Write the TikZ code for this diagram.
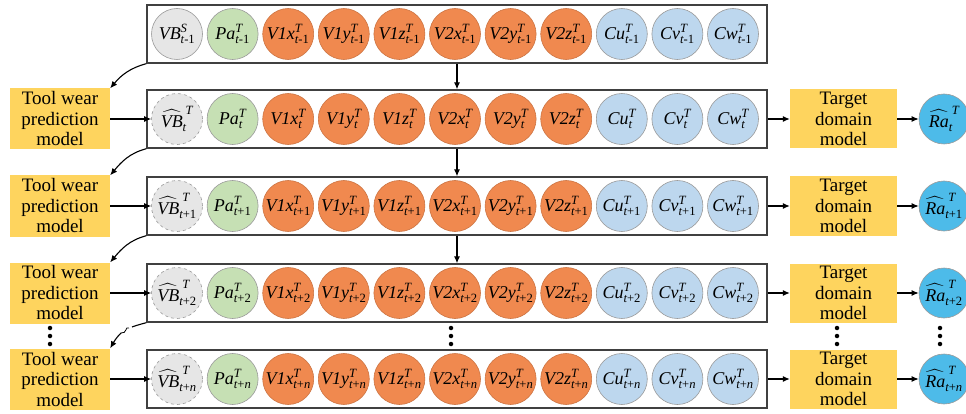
\documentclass[tikz,border=0pt]{standalone}
\usepackage{amsmath}
\usepackage{fontspec}
\setmainfont{Liberation Serif}
\usetikzlibrary{arrows.meta}
\definecolor{greyfill}{HTML}{E6E6E6}
\definecolor{greyline}{HTML}{9A9A9A}
\definecolor{greenfill}{HTML}{C6E0B4}
\definecolor{orangefill}{HTML}{F0894F}
\definecolor{bluefill}{HTML}{BDD7EE}
\definecolor{yellowfill}{HTML}{FED45E}
\definecolor{rafill}{HTML}{4DBBE9}
\definecolor{boxline}{HTML}{404040}
\newcommand\clab[3]{$\textit{#1}^{\textit{#2}}_{#3}$}
\newcommand\hlab[3]{$\widehat{\textit{#1}}^{\hspace{3pt}\textit{#2}}_{#3}$}
\begin{document}
\begin{tikzpicture}[x=1pt,y=-1pt,
  cir/.style={circle,minimum size=51,inner sep=0,draw=greyline,line width=0.6,
    font=\fontsize{18}{20}\selectfont},
  vbc/.style={cir,fill=greyfill},
  pac/.style={cir,fill=greenfill},
  orc/.style={cir,fill=orangefill,draw=orangefill!85!black},
  blc/.style={cir,fill=bluefill},
  rac/.style={cir,fill=rafill,minimum size=50},
  rowbox/.style={draw=boxline,line width=1.4,minimum width=620,minimum height=58,inner sep=0},
  ybox/.style={fill=yellowfill,minimum width=100,minimum height=61,inner sep=0,align=center,
    font=\fontsize{19}{20.5}\selectfont},
  tbox/.style={ybox,minimum width=107,minimum height=59},
  arr/.style={line width=1.1,-{Latex[length=7,width=6]}},
  dot/.style={circle,fill=black,inner sep=0,minimum size=4.5}
]
\useasboundingbox (0,0) rectangle (966,414);

% row 0
\node[rowbox] (box0) at (457,34) {};
\node[vbc] (c0-0) at (177,34) {\clab{VB}{S}{\textit{t}\text{-1}}};
\node[pac] (c0-1) at (232.6,34) {\clab{Pa}{T}{\textit{t}\text{-1}}};
\foreach \i/\n in {2/V1x,3/V1y,4/V1z,5/V2x,6/V2y,7/V2z}
  \node[orc] (c0-\i) at (177+55.6*\i,34) {\clab{\n}{T}{\textit{t}\text{-1}}};
\foreach \i/\n in {8/Cu,9/Cv,10/Cw}
  \node[blc] (c0-\i) at (177+55.6*\i,34) {\clab{\n}{T}{\textit{t}\text{-1}}};

% rows 1..4
\foreach \r/\y/\s in {1/119/{\textit{t}},2/206/{\textit{t}\text{+1}},3/293/{\textit{t}\text{+2}},4/379/{\textit{t}\text{+}\textit{n}}}{
  \node[rowbox] (box\r) at (457,\y) {};
  \node[vbc,dashed] (c\r-0) at (177,\y) {\hlab{VB}{T}{\s}};
  \node[pac] (c\r-1) at (232.6,\y) {\clab{Pa}{T}{\s}};
  \foreach \i/\n in {2/V1x,3/V1y,4/V1z,5/V2x,6/V2y,7/V2z}
    \node[orc] (c\r-\i) at (177+55.6*\i,\y) {\clab{\n}{T}{\s}};
  \foreach \i/\n in {8/Cu,9/Cv,10/Cw}
    \node[blc] (c\r-\i) at (177+55.6*\i,\y) {\clab{\n}{T}{\s}};
  \node[ybox] (tw\r) at (60,\y) {Tool wear\\prediction\\model};
  \node[tbox] (td\r) at (843.5,\y) {Target\\domain\\model};
  \node[rac] (ra\r) at (944,\y) {\hlab{Ra}{T}{\s}};
  \draw[arr] (tw\r) -- (c\r-0);
  \draw[arr] (box\r) -- (td\r);
  \draw[arr] (td\r) -- (ra\r);
}

% vertical arrows
\draw[arr] (box0) -- (box1);
\draw[arr] (box1) -- (box2);
\draw[arr] (box2) -- (box3);

% curved arrows
\draw[arr] (box0.south west) to[out=195,in=50] (tw1.north east);
\draw[arr] (box1.south west) to[out=195,in=50] (tw2.north east);
\draw[arr] (box2.south west) to[out=195,in=50] (tw3.north east);
% broken curved arrow
\coordinate (b1) at (132,327);
\coordinate (b2) at (121,333);
\draw[line width=1.1] (box3.south west) to[out=195,in=20] (b1);
\draw[line width=0.8] (b1) ++(-3,1) .. controls (125,326) and (127,334) .. (b2);
\draw[arr] (b2) to[out=225,in=60] (tw4.north east);

% dots
\foreach \x in {50,451,837,940}{
  \node[dot] at (\x,328) {};
  \node[dot] at (\x,336) {};
  \node[dot] at (\x,344) {};
}
\end{tikzpicture}
\end{document}
